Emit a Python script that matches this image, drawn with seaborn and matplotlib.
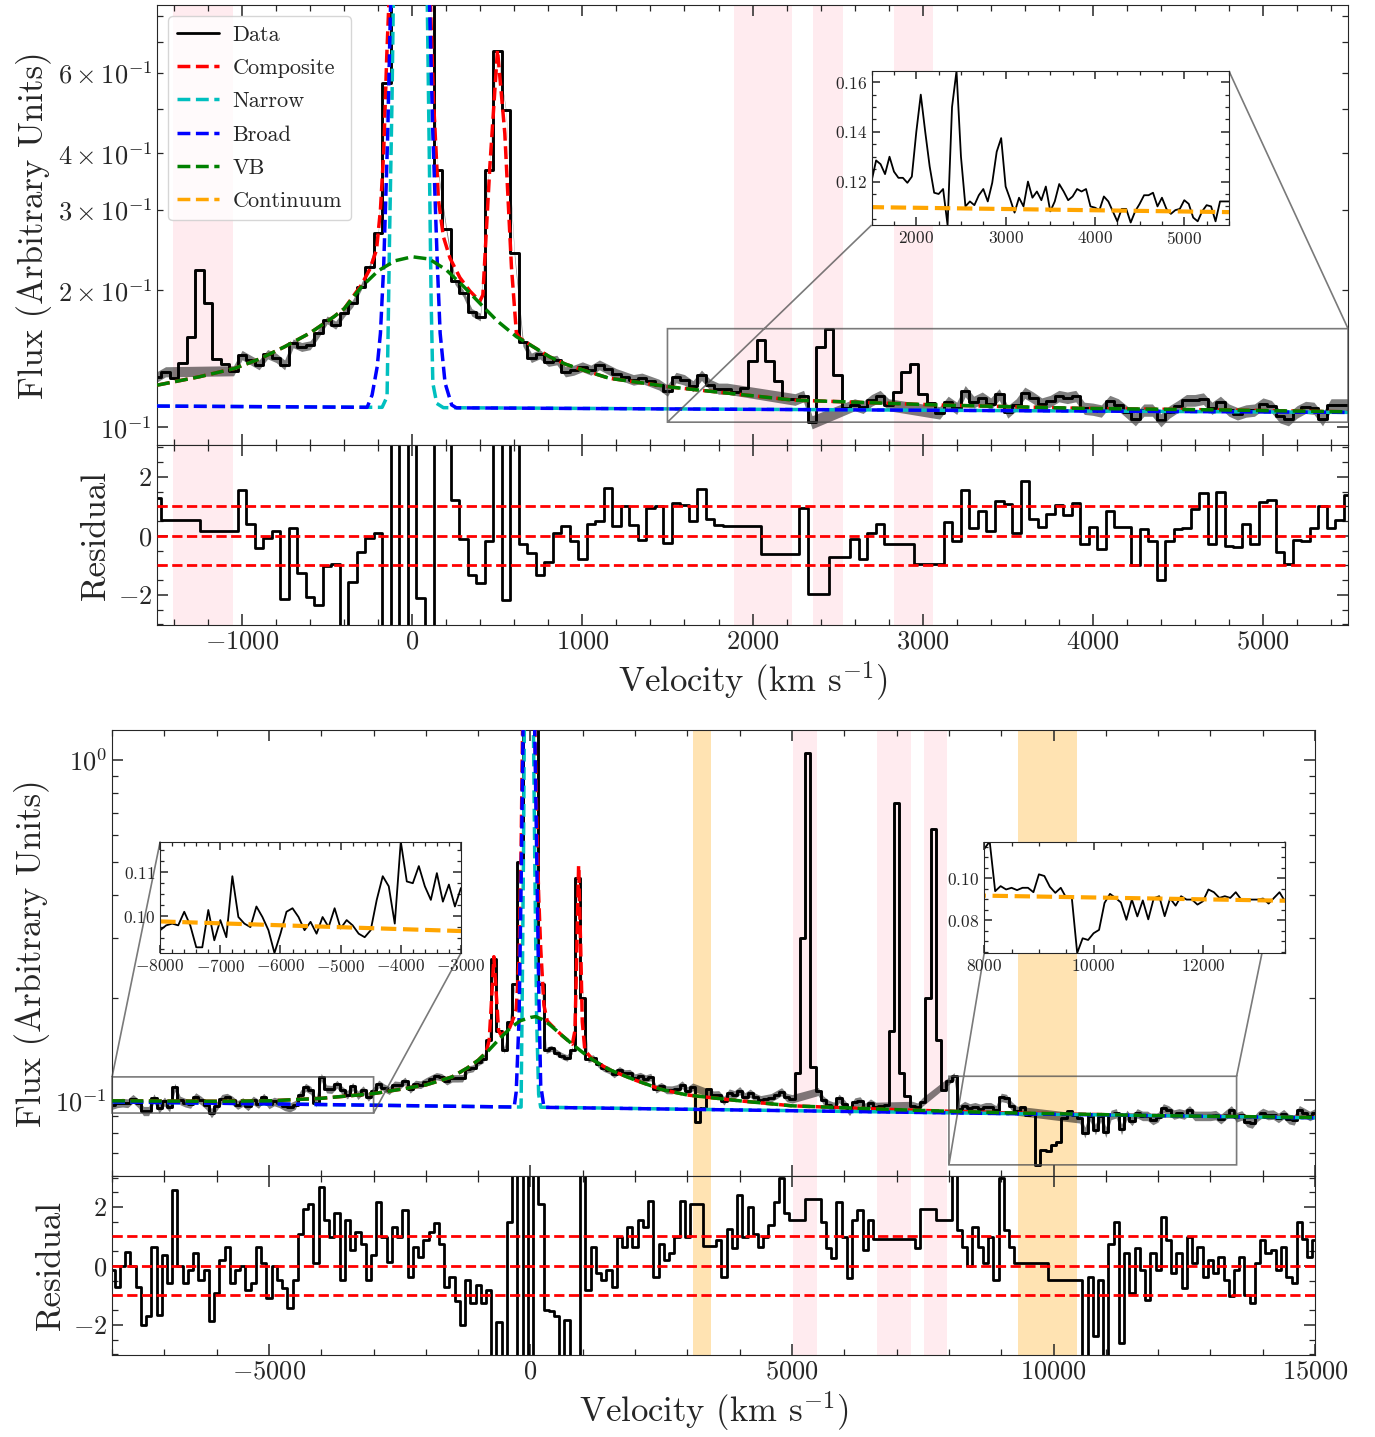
import numpy as np
import matplotlib
matplotlib.use("Agg")
import matplotlib.pyplot as plt
from matplotlib.lines import Line2D
from matplotlib.ticker import MultipleLocator, AutoMinorLocator
import seaborn as sns

nan = np.nan

# --- top spectrum: 50 km/s bins, -1500 .. 5500 km/s ---
top_vel = np.arange(-1500, 5501, 50)
top_flux = [
    0.129, 0.1323, 0.128, 0.1384, 0.158, 0.2214, 0.187, 0.1409, 0.1375, 0.133,
    0.144, 0.1404, 0.137, 0.1446, 0.142, 0.137, 0.1528, 0.150, 0.1513, 0.1607,
    0.172, 0.1675, 0.178, 0.187, 0.2035, 0.225, 0.2667, 0.569, 1.6, 3.0,
    3.5, 3.0, 0.95, 0.368, 0.272, 0.2095, 0.1967, 0.1787, 0.1745, 0.368,
    0.67, 0.497, 0.2408, 0.154, 0.142, 0.1446, 0.1393, 0.1404, 0.1323, 0.1334,
    0.1357, 0.1334, 0.137, 0.134, 0.131, 0.129, 0.127, 0.128, 0.126, 0.124,
    0.1203, 0.1285, 0.127, 0.123, 0.130, 0.124, 0.1215, 0.1215, 0.1195, 0.122,
    0.140, 0.155, 0.140, 0.126, 0.1155, 0.115, 0.117, 0.1025, 0.150, 0.1645,
    0.130, 0.110, 0.112, 0.1105, 0.1145, 0.117, 0.112, 0.1195, 0.132, 0.1375,
    0.118, 0.113, 0.1075, 0.1135, 0.110, 0.120, 0.1135, 0.116, 0.1125, 0.118,
    0.108, 0.112, 0.119, 0.116, 0.1125, 0.114, 0.117, 0.116, 0.117, 0.110,
    0.1095, 0.1085, 0.114, 0.112, 0.108, 0.104, 0.109, 0.109, 0.1035, 0.108,
    0.111, 0.1145, 0.1145, 0.1155, 0.110, 0.1135, 0.109, 0.107, 0.1085, 0.109,
    0.1125, 0.111, 0.1055, 0.104, 0.108, 0.1105, 0.110, 0.104, 0.112, 0.112,
    0.112,
]
# residuals, nan where the bin was masked out of the fit
top_resid = [
    1.30, 0.54, nan, nan, nan, nan, nan, nan, nan, 0.18,
    1.56, 0.40, -0.42, -0.08, 0.17, -2.15, 0.26, -1.27, -2.08, -2.36,
    -1.02, -0.95, -3.5, -1.55, -0.56, -0.08, 0.11, -4.0, 4.0, -4.0,
    4.0, -2.1, -4.0, 4.0, 4.0, 1.2, -0.1, -1.32, -1.6, -0.19,
    4.0, -2.17, 4.0, -0.28, -0.59, -1.32, -0.87, 0.11, 0.34, -0.19,
    -0.78, 0.41, 0.52, 1.62, 0.34, 1.0, 0.37, -0.14, 0.94, 1.0,
    -0.23, 1.1, 1.05, 0.49, 1.58, 0.56, 0.37, 0.34, nan, nan,
    nan, nan, nan, nan, nan, -0.62, 0.96, -1.98, nan, nan,
    nan, -0.72, -0.11, -0.79, 0.09, 0.41, -0.27, nan, nan, nan,
    nan, nan, -0.96, 0.46, -0.19, 1.56, 0.28, 0.86, 0.15, 1.19,
    1.08, 0.09, 1.86, 0.58, 0.29, 0.75, 1.05, 0.71, 1.1, -0.28,
    0.29, -0.44, 0.85, 0.29, 0.29, -0.98, 0.23, -0.16, -1.49, -0.16,
    0.23, 0.26, 0.9, 1.45, -0.27, 1.48, -0.34, -0.38, 0.41, -0.27,
    1.16, 1.22, -0.53, -0.95, -0.14, -0.19, 0.26, 1.0, 0.26, 0.54,
    1.39,
]
top_err = 0.0034

top_cont_v = [-1500, 5500]
top_cont_f = [0.1112, 0.1077]
top_narrow_v = [-1500, -177, -148, -142, -133, -119, -109, -80, 0, 60,
                86, 101, 111, 121, 144, 183, 5500]
top_narrow_f = [0.1112, 0.1105, 0.1166, 0.1607, 0.2667, 0.523, 1.0, 3.0, 4.0, 3.0,
                1.0, 0.3734, 0.190, 0.1249, 0.1127, 0.1103, 0.1077]
top_broad_v = [-1500, -265, -236, -206, -187, -168, -144, -129, -100, 0,
               80, 101, 121, 148, 164, 193, 232, 260, 5500]
top_broad_f = [0.1112, 0.1105, 0.1176, 0.1357, 0.1607, 0.225, 0.4418, 0.798, 2.0, 3.0,
               2.0, 0.87, 0.4418, 0.225, 0.1607, 0.1249, 0.1118, 0.1102, 0.1077]
top_vb_v = [-1500, -1250, -1045, -900, -752, -600, -460, -400, -300, -200,
            -100, 0, 100, 200, 300, 417, 500, 612, 700, 807,
            900, 1002, 1158, 1531, 2240, 3091, 3943, 4793, 5500]
top_vb_f = [0.1236, 0.129, 0.1345, 0.141, 0.150, 0.161, 0.1748, 0.182, 0.203, 0.2205,
            0.232, 0.2367, 0.234, 0.2215, 0.204, 0.1838, 0.171, 0.158, 0.151, 0.1427,
            0.1375, 0.1335, 0.128, 0.1223, 0.1146, 0.1118, 0.1099, 0.109, 0.108]
top_comp_v = [-1500, -1250, -1045, -900, -752, -600, -460, -400, -300, -250,
              -210, -187, -168, -150, -135, 0, 105, 125, 154, 183,
              222, 280, 339, 397, 415, 456, 501, 544, 583, 612,
              632, 700, 807, 900, 1002, 1158, 1531, 2240, 3091, 3943,
              4793, 5500]
top_comp_f = [0.1236, 0.129, 0.1345, 0.141, 0.150, 0.161, 0.1748, 0.182, 0.205, 0.222,
              0.245, 0.30, 0.40, 0.65, 0.9, 4.0, 0.9, 0.523, 0.3155, 0.262,
              0.235, 0.213, 0.199, 0.189, 0.195, 0.373, 0.674, 0.442, 0.225, 0.161,
              0.157, 0.151, 0.1427, 0.1375, 0.1335, 0.128, 0.1223, 0.1146, 0.1118, 0.1099,
              0.109, 0.108]
top_spans = [(-1404, -1053, "pink"), (1889, 2234, "pink"),
             (2357, 2532, "pink"), (2830, 3058, "pink")]

# --- bottom spectrum: 100 km/s bins, -8000 .. 15000 km/s ---
bot_vel = np.arange(-8000, 15001, 100)
bot_flux = [
    0.0968, 0.0979, 0.0983, 0.0979, 0.1010, 0.0979, 0.0929, 0.0929, 0.1014, 0.0945,
    0.0991, 0.0952, 0.1091, 0.0998, 0.0983, 0.0975, 0.1022, 0.0998, 0.0968, 0.0916,
    0.0960, 0.1010, 0.1018, 0.0998, 0.0968, 0.0987, 0.0960, 0.0998, 0.0975, 0.1018,
    0.0972, 0.0991, 0.0979, 0.0960, 0.0952, 0.0968, 0.1037, 0.1091, 0.1068, 0.0983,
    0.117, 0.1079, 0.1075, 0.1114, 0.1068, 0.1037, 0.1098, 0.1033, 0.1072, 0.1022,
    0.1064, 0.1116, 0.1087, 0.1068, 0.1109, 0.1105, 0.1139, 0.1077, 0.1115, 0.1110,
    0.1134, 0.1155, 0.1176, 0.1168, 0.1137, 0.1159, 0.1159, 0.116, 0.1231, 0.124,
    0.1291, 0.1317, 0.15, 0.26, 0.16, 0.14, 0.17, 0.22, 0.5, 1.6,
    2.5, 2.0, 0.22, 0.14, 0.142, 0.138, 0.135, 0.133, 0.14, 0.45,
    0.2, 0.132, 0.133, 0.1275, 0.1243, 0.1226, 0.1192, 0.1226, 0.1199, 0.1202,
    0.1165, 0.1178, 0.1157, 0.117, 0.1078, 0.1098, 0.1073, 0.1072, 0.1081, 0.111,
    0.1065, 0.1094, 0.0865, 0.095, 0.108, 0.1035, 0.1037, 0.0996, 0.105, 0.1037,
    0.1067, 0.1022, 0.1049, 0.1018, 0.1002, 0.1009, 0.1016, 0.1037, 0.1059, 0.1018,
    0.1009, 0.12, 0.3, 1.05, 0.125, 0.106, 0.0999, 0.097, 0.0957, 0.1012,
    0.0974, 0.0929, 0.0986, 0.0994, 0.095, 0.0979, 0.0957, 0.096, 0.097, 0.16,
    0.745, 0.12, 0.103, 0.0963, 0.0952, 0.099, 0.2, 0.625, 0.15, 0.107,
    0.114, 0.1175, 0.0939, 0.0963, 0.0947, 0.0955, 0.0944, 0.0955, 0.0955, 0.0934,
    0.1019, 0.1011, 0.096, 0.0931, 0.0955, 0.0907, 0.0912, 0.0645, 0.0715, 0.0707,
    0.0739, 0.0755, 0.0883, 0.0926, 0.0907, 0.0885, 0.0803, 0.0899, 0.0819, 0.0895,
    0.0805, 0.0905, 0.0915, 0.082, 0.0905, 0.087, 0.0915, 0.0899, 0.0899, 0.0875,
    0.0891, 0.0947, 0.0934, 0.0907, 0.0915, 0.0907, 0.0934, 0.0899, 0.0899, 0.0899,
    0.0899, 0.0904, 0.088, 0.0907, 0.0934, 0.0891, 0.0902, 0.0864, 0.0855, 0.0895,
    0.0918, 0.0904, 0.0907, 0.0887, 0.091, 0.088, 0.0873, 0.0935, 0.0917, 0.0898,
    0.0915,
]
bot_resid = [
    -0.13, -0.7, 0.0, 0.48, 0.0, -0.7, -2.0, -1.7, 0.63, -1.65,
    0.37, -0.58, 2.56, 0.0, -0.58, -0.13, 0.43, -0.47, -0.13, -1.88,
    -0.92, 0.2, 0.65, -0.58, -0.13, 0.0, -0.8, -0.58, 0.65, 0.09,
    -1.09, 0.0, -0.47, -0.75, -1.43, -0.47, 1.1, 1.94, 2.1, 0.09,
    2.67, 1.55, 0.99, 1.78, -0.47, 1.55, 0.54, 1.16, 0.76, -0.47,
    0.37, 2.17, 0.99, 0.15, 1.33, 0.99, 1.89, -0.36, 0.65, 0.31,
    0.88, 1.16, 1.44, 0.76, -0.7, -0.36, -1.2, -2.0, -0.47, -1.26,
    -0.64, -1.26, -0.8, -3.5, -1.9, -3.5, 1.5, 3.5, -3.5, 3.5,
    -3.5, 3.5, 2.1, -1.48, -1.54, -1.7, -3.5, -1.82, -3.5, -3.5,
    3.5, -0.8, 0.65, -0.25, -0.47, -0.13, -0.7, 0.99, 0.65, 1.33,
    0.65, 1.55, 1.33, 2.22, -0.36, 0.76, 0.2, 0.43, 0.99, 2.22,
    0.99, 2.1, nan, nan, nan, 0.67, 0.88, -0.36, 1.27, 0.6,
    2.4, 0.99, 2.0, 1.1, 0.65, 0.99, 1.38, 2.17, 3.0, 1.78,
    1.55, nan, nan, nan, nan, 2.28, 1.49, 0.6, 0.26, 2.17,
    0.99, -0.42, 1.55, 1.89, 0.54, 1.55, 0.93, nan, nan, nan,
    nan, nan, nan, 0.93, 0.6, 1.94, nan, nan, nan, nan,
    1.57, 3.5, 1.21, 0.65, 0.0, 1.33, 0.65, 0.09, 0.99, -0.47,
    3.0, 1.21, 0.65, 0.11, nan, nan, nan, nan, nan, nan,
    nan, nan, nan, nan, nan, -0.47, -3.5, -0.36, -2.38, -0.47,
    -3.5, 0.76, 1.49, -2.6, 0.43, -0.92, 0.6, -0.13, -1.15, 0.43,
    -0.13, 1.66, 0.88, -0.25, 0.43, -0.75, 0.99, 0.09, 0.65, -0.36,
    0.2, -0.25, 0.31, -0.47, -1.03, -0.13, 0.31, -0.98, -1.26, 0.09,
    0.88, 0.43, 0.54, -0.13, 0.65, -0.36, -0.58, 1.49, 0.93, 0.31,
    0.88,
]
bot_err = 0.0029

bot_cont_v = [-8000, 15000]
bot_cont_f = [0.0988, 0.0887]
bot_narrow_v = [-8000, -180, -156, -133, -117, 0, 55, 86, 117, 156, 195, 15000]
bot_narrow_f = [0.0988, 0.0954, 0.22, 0.55, 1.3, 4.0, 1.3, 0.44, 0.175, 0.104, 0.0953, 0.0887]
bot_broad_v = [-8000, -312, -273, -218, -179, -140, 0, 78, 117, 156, 195, 257, 15000]
bot_broad_f = [0.0988, 0.0954, 0.1058, 0.175, 0.4375, 1.3, 4.0, 1.3, 0.55, 0.22, 0.1108, 0.0952, 0.0887]
bot_vb_v = [-8000, -6000, -5000, -4000, -3000, -2500, -2000, -1500, -1200, -1000,
            -800, -600, -400, -200, 0, 100, 250, 400, 600, 800,
            1000, 1200, 1500, 2000, 2500, 3000, 4000, 5000, 7000, 9000,
            12000, 15000]
bot_vb_f = [0.0995, 0.0992, 0.0995, 0.1012, 0.1045, 0.1075, 0.1108, 0.117, 0.1245, 0.131,
            0.140, 0.151, 0.162, 0.171, 0.175, 0.176, 0.172, 0.165, 0.155, 0.146,
            0.138, 0.131, 0.123, 0.1145, 0.1075, 0.1035, 0.0995, 0.0962, 0.0937, 0.0918,
            0.0900, 0.0889]
bot_comp_v = [-8000, -6000, -5000, -4000, -3000, -2500, -2000, -1500, -1200, -1000,
              -850, -790, -750, -700, -650, -610, -560, -400, -320, -273,
              -218, -179, -150, 0, 80, 117, 156, 195, 257, 320,
              400, 600, 800, 850, 880, 920, 960, 990, 1040, 1200,
              1500, 2000, 2500, 3000, 4000, 5000, 7000, 9000, 12000, 15000]
bot_comp_f = [0.0995, 0.0992, 0.0995, 0.1012, 0.1045, 0.1075, 0.1108, 0.117, 0.1245, 0.131,
              0.138, 0.150, 0.19, 0.264, 0.20, 0.16, 0.155, 0.163, 0.175, 0.185,
              0.26, 0.55, 1.3, 4.0, 1.3, 0.7, 0.4, 0.28, 0.19, 0.171,
              0.166, 0.155, 0.146, 0.16, 0.25, 0.49, 0.28, 0.17, 0.140, 0.131,
              0.123, 0.1145, 0.1075, 0.1035, 0.0995, 0.0962, 0.0937, 0.0918, 0.0900, 0.0889]
bot_spans = [(3103, 3448, "orange"), (5019, 5479, "pink"), (6628, 7280, "pink"),
             (7529, 7969, "pink"), (9330, 10441, "orange")]

# --- style ---
sns.set_style("ticks")
plt.rcParams.update({
    "font.family": "serif",
    "font.serif": ["cmr10"],
    "mathtext.fontset": "cm",
    "axes.formatter.use_mathtext": True,
    "axes.unicode_minus": True,
})

TICK = 19
LABEL = 25


def style_ticks(a, size=TICK, major=8, minor=4):
    a.tick_params(which="both", direction="in", top=True, right=True,
                  labelsize=size, color=".15")
    a.tick_params(which="major", length=major, width=1.1)
    a.tick_params(which="minor", length=minor, width=0.9)


def draw_spectrum(ax, axr, vel, flux, resid, err, comps, spans):
    vel = np.asarray(vel, dtype=float)
    flux = np.asarray(flux, dtype=float)
    resid = np.asarray(resid, dtype=float)
    ok = np.isfinite(resid)

    for lo, hi, col in spans:
        for a in (ax, axr):
            a.axvspan(lo, hi, color=col, alpha=0.3, lw=0, zorder=0)

    # error band only from the bins used in the fit
    ax.fill_between(vel[ok], flux[ok] - err, flux[ok] + err,
                    color="k", alpha=0.5, lw=0, zorder=1)
    sns.lineplot(x=vel, y=flux, ax=ax, color="k", linewidth=2.1,
                 drawstyle="steps-mid", estimator=None, legend=False, zorder=2)
    for kv, kf, col, z in comps:
        sns.lineplot(x=kv, y=kf, ax=ax, color=col, linewidth=2.5,
                     linestyle="--", estimator=None, legend=False, zorder=z)
    ax.set_yscale("log")

    sns.lineplot(x=vel[ok], y=resid[ok], ax=axr, color="k", linewidth=2,
                 drawstyle="steps-mid", estimator=None, legend=False, zorder=2)
    for lvl in (-1, 0, 1):
        axr.axhline(lvl, color="red", ls="--", lw=2, zorder=3)

    style_ticks(ax)
    style_ticks(axr)
    ax.tick_params(labelbottom=False)
    axr.yaxis.set_major_locator(MultipleLocator(2))
    axr.yaxis.set_minor_locator(AutoMinorLocator(4))
    ax.set_xlabel("")
    ax.set_ylabel("Flux (Arbitrary Units)", fontsize=LABEL)
    axr.set_ylabel("Residual", fontsize=LABEL)
    axr.set_xlabel(r"Velocity (km s$^{-1}$)", fontsize=LABEL)


def add_inset(ax, rect, vel, flux, cont, xr, xstep, ystep, xminor):
    ins = ax.inset_axes(rect)
    v = np.asarray(vel, dtype=float)
    f = np.asarray(flux, dtype=float)
    sel = (v >= xr[0]) & (v <= xr[1])
    sns.lineplot(x=v[sel], y=f[sel], ax=ins, color="k", linewidth=1.3,
                 estimator=None, legend=False)
    sns.lineplot(x=cont[0], y=cont[1], ax=ins, color="orange", linewidth=3,
                 linestyle="--", estimator=None, legend=False)
    ins.set_xlim(*xr)
    ins.set_ylim(f[sel].min(), f[sel].max())
    ins.xaxis.set_major_locator(MultipleLocator(xstep))
    ins.xaxis.set_minor_locator(AutoMinorLocator(xminor))
    ins.yaxis.set_major_locator(MultipleLocator(ystep))
    ins.yaxis.set_minor_locator(AutoMinorLocator(4))
    ins.set_xlabel("")
    ins.set_ylabel("")
    style_ticks(ins, size=12.5, major=6, minor=3)
    ax.indicate_inset_zoom(ins, edgecolor="0.3", alpha=0.75, linewidth=1.2)
    return ins


fig = plt.figure(figsize=(13.75, 14.37), dpi=100)

# top spectrum
ax1 = fig.add_axes([0.1142, 0.6903, 0.8662, 0.3062])
ax1r = fig.add_axes([0.1142, 0.5651, 0.8662, 0.1252])
draw_spectrum(ax1, ax1r, top_vel, top_flux, top_resid, top_err,
              [(top_comp_v, top_comp_f, "red", 3),
               (top_narrow_v, top_narrow_f, "c", 3.5),
               (top_broad_v, top_broad_f, "blue", 4),
               (top_vb_v, top_vb_f, "green", 5)],
              top_spans)
for a in (ax1, ax1r):
    a.set_xlim(-1500, 5500)
    a.xaxis.set_major_locator(MultipleLocator(1000))
    a.xaxis.set_minor_locator(AutoMinorLocator())
ax1.set_ylim(0.0913, 0.846)
ax1r.set_ylim(-3.02, 3.08)
add_inset(ax1, [0.60, 0.50, 0.30, 0.35], top_vel, top_flux,
          (top_cont_v, top_cont_f), (1500, 5500), 1000, 0.02, 4)

handles = [Line2D([], [], color="k", lw=2, label="Data"),
           Line2D([], [], color="red", lw=2.5, ls="--", label="Composite"),
           Line2D([], [], color="c", lw=2.5, ls="--", label="Narrow"),
           Line2D([], [], color="blue", lw=2.5, ls="--", label="Broad"),
           Line2D([], [], color="green", lw=2.5, ls="--", label="VB"),
           Line2D([], [], color="orange", lw=2.5, ls="--", label="Continuum")]
ax1.legend(handles=handles, loc="upper left", fontsize=16, frameon=True,
           fancybox=True, framealpha=0.8, edgecolor="0.8",
           labelspacing=0.62, handlelength=1.9, handletextpad=0.6)

# bottom spectrum
ax2 = fig.add_axes([0.0815, 0.1816, 0.8749, 0.3104])
ax2r = fig.add_axes([0.0815, 0.0571, 0.8749, 0.1245])
draw_spectrum(ax2, ax2r, bot_vel, bot_flux, bot_resid, bot_err,
              [(bot_comp_v, bot_comp_f, "red", 3),
               (bot_narrow_v, bot_narrow_f, "c", 3.5),
               (bot_broad_v, bot_broad_f, "blue", 4),
               (bot_vb_v, bot_vb_f, "green", 5)],
              bot_spans)
for a in (ax2, ax2r):
    a.set_xlim(-8000, 15000)
    a.xaxis.set_major_locator(MultipleLocator(5000))
    a.xaxis.set_minor_locator(AutoMinorLocator())
ax2.set_ylim(0.0598, 1.225)
ax2r.set_ylim(-3.02, 3.05)
add_inset(ax2, [0.04, 0.50, 0.25, 0.25], bot_vel, bot_flux,
          (bot_cont_v, bot_cont_f), (-8000, -3000), 1000, 0.01, 5)
add_inset(ax2, [0.725, 0.50, 0.25, 0.25], bot_vel, bot_flux,
          (bot_cont_v, bot_cont_f), (8000, 13500), 2000, 0.02, 4)

fig.savefig("out.png", dpi=100)
